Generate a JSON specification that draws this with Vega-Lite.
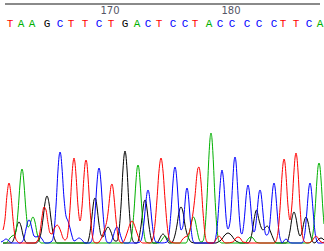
{
"$schema": "https://vega.github.io/schema/vega-lite/v6.json",
"width": 324, "height": 251, "padding": 0, "autosize": {"type": "none"},
"background": "white",
"config": {"view": {"stroke": null}},
"datasets": {
"trace": [
{"c":"G","x":[3,11,13,15,17,19,21,23,25,27,36,39,41,43,45,47,49,51,53,55,57,80,87,89,91,93,94,95,96,97,99,101,103,105,108,111,113,115,117,119,121,123,124,125,126,127,129,131,133,135,137,139,141,143,144,145,146,147,149,151,153,157,159,161,163,165,167,169,171,173,175,177,179,181,183,185,187,189,191,195,210,216,218,220,222,224,226,228,230,232,234,236,238,240,248,250,252,254,256.5,259,261,263,265,267,269,271,273,275,277,284,286,288,290,292,294,296,298,300,302,304,306,308,310,312,314,316,319,321,323,324],
 "h":[1,1,3,9,18,22,18,9,3,1,1,4,11,25,41,48,41,25,11,4,1,1,1,6,19,37,44,46,44,37,20,9,7,12,17,12,6,3,3,13,38,75,88,93,88,75,38,13,3,1,1,6,18,35,42,44,42,35,18,6,1,1,4,8,10,8,4,1,1,3,9,19,32,37,32,19,10,5,2,1,1,1,2,3,5,8,10,11,10,8,5,3,2,1,1,3,11,24,34,24,17,14,16,18,16,11,6,2,1,1,1,4,13,26,32,26,14,8,12,22,27,22,11,4,1,2,5,6,5,4]},
{"c":"A","x":[3,6,8,10,12,14,16,18,20,21,22,23,24,26,28,30,31,33,35,37,39,41,50,100,128,130,132,134,136,137,138,139,140,142,144,146,150,159,161,163,165,167,169,172,184,186,188,190,192,193.5,195,197,199,201,203,205,207,209,210,211,212,213,215,217,219,222,245,246,249,251,253,256,260,300,309,311,313,315,317,318,319,320,321,323,324],
 "h":[1,1,3,6,8,9,13,32,60,71,75,71,60,33,17,19,23,27,22,11,4,1,1,1,1,2,11,33,63,75,79,75,63,33,11,2,1,1,3,6,8,6,3,1,1,1,5,14,24,27,24,14,5,2,3,15,46,89,105,111,105,89,46,15,3,1,1,2,6,7,6,2,1,1,1,2,11,33,65,77,81,77,65,33,20]},
{"c":"C","x":[1,3,6,9,12,20,22,24,26,28,29,30,32,34,36,39,42,45,48,52,54,56,58,59,60,61,62,64,66,68,70,72,74,76,79,82,85,89,91,93,95,97,98,99,100,101,103,105,107,110,113,115,117,119,121,124,136,140,142,144,146,147,148,149,150,152,154,156,162,167,169,171,173,174,175,176,177,179,181,183,184,185,186,187,188,189,190,191,193,195,205,208,212,214,216,217,218,219,220,221,222,223,224,225,226,227,228,229,230,231,232,233,234,235,236,237,238,239,240,241,242,243,244,245,246,247,248,249,250,251,252,253,254,255,256,257,258,259,260,261,262,263,264,265,266,267,268,269,270,271,272,273,274,275,276,277,278,279,280,281,282,283,286,289,292,300,302,304,305,306,307,308,309,310,311,312,313,314,315,316,318,322,324],
 "h":[2,3,5,3,1,1,2,6,15,23,24,23,15,8,7,8,5,1,1,3,12,38,74,87,92,88,76,46,28,23,16,8,3,4,6,4,1,1,2,10,31,61,72,76,72,61,31,10,2,1,7,14,17,14,7,1,1,2,7,22,43,51,54,51,43,22,7,2,1,2,10,32,62,73,77,73,62,32,14,18,28,41,52,56,52,41,27,16,3,1,1,1,1,1,8,15,27,42,57,69,74,69,58,42,27,18,15,17,22,32,49,67,82,87,82,67,49,32,19,11,10,14,22,33,46,55,59,55,46,34,22,14,12,14,21,31,42,51,54,51,42,31,20,12,9,9,10,13,22,34,47,57,61,57,47,34,22,12,6,3,1,2,5,2,1,1,1,6,12,22,34,47,57,61,57,47,34,22,12,6,1,1,2]},
{"c":"T","x":[3,5,7,9,11,13,15,17,20,34,38,40,42,44,46,48,50,52,54,56,57,59,61,63,65,67,68,70,72,73,74,75,76,78,80,82,84,85,86,87,88,90,92,94,97,101,103,105,107,108,110,111,112,113,114,116,118,120,122,124,126,128,130,132,134,136,138,140,143,150,153,155,157,159,161,163,165,167,169,171,175,180,182,185,187,189,191,193,195,197,198,199,200,201,203,205,207,210,213,215,217,219,221,223,226,233,236,238,240,243,250,265,274,276,278,280,282,283,284,285,286,288,290,292,294,295,296,297,298,300,302,304,307,312,314,316,318,320,324],
 "h":[14,25,49,61,49,25,8,3,1,1,4,12,27,37,34,21,11,10,15,18,19,17,12,6,4,6,12,35,69,81,86,81,69,38,23,37,68,80,84,80,67,35,11,2,1,5,10,16,24,31,50,58,60,56,47,24,8,2,1,3,8,14,20,23,20,14,8,3,1,1,6,20,45,73,86,73,45,20,6,2,1,1,4,7,8,11,19,31,48,70,76,77,72,62,32,10,2,1,1,3,6,8,6,3,1,2,6,7,6,2,1,1,1,3,12,35,68,80,85,81,69,38,24,40,73,86,91,86,73,37,12,3,1,3,6,8,6,3,1]}
],
"bases": [
{"pos":162,"base":"T","x":10},{"pos":163,"base":"A","x":21},{"pos":164,"base":"A","x":32},{"pos":165,"base":"G","x":47},{"pos":166,"base":"C","x":60},{"pos":167,"base":"T","x":71},{"pos":168,"base":"T","x":85},{"pos":169,"base":"C","x":99},{"pos":170,"base":"T","x":111},{"pos":171,"base":"G","x":125},{"pos":172,"base":"A","x":137},{"pos":173,"base":"C","x":148},{"pos":174,"base":"T","x":159},{"pos":175,"base":"C","x":173},{"pos":176,"base":"C","x":185},{"pos":177,"base":"T","x":195},{"pos":178,"base":"A","x":209},{"pos":179,"base":"C","x":220},{"pos":180,"base":"C","x":232},{"pos":181,"base":"C","x":247},{"pos":182,"base":"C","x":259},{"pos":183,"base":"C","x":274},{"pos":184,"base":"T","x":283},{"pos":185,"base":"T","x":296},{"pos":186,"base":"C","x":309},{"pos":187,"base":"A","x":320}],
"ticks": [{"pos":"170","x":110},{"pos":"180","x":231}],
"ruler": [{"from":5,"to":320}]
},
"layer": [
{"data": {"name": "trace"}, "transform": [{"flatten": ["x", "h"]}],
 "mark": {"type": "line", "interpolate": "monotone", "strokeWidth": 1},
 "encoding": {
  "x": {"field": "x", "type": "quantitative", "scale": {"domain": [0, 324], "nice": false, "zero": false}, "axis": null},
  "y": {"field": "h", "type": "quantitative", "scale": {"domain": [-7, 244], "nice": false, "zero": false}, "axis": null},
  "color": {"field": "c", "type": "nominal", "scale": {"domain": ["A","C","G","T"], "range": ["#00b000","#0000ff","#000000","#ff0000"]}, "legend": null},
  "order": {"field": "x", "type": "quantitative"}}},
{"data": {"name": "bases"},
 "mark": {"type": "text", "font": "Liberation Mono", "fontSize": 11, "baseline": "alphabetic", "align": "center"},
 "encoding": {"x": {"field": "x", "type": "quantitative"}, "y": {"datum": 217}, "text": {"field": "base"}, "color": {"field": "base", "type": "nominal"}}},
{"data": {"name": "ticks"},
 "mark": {"type": "text", "font": "DejaVu Sans", "fontSize": 10, "color": "#555566", "baseline": "alphabetic", "align": "center"},
 "encoding": {"x": {"field": "x", "type": "quantitative"}, "y": {"datum": 230}, "text": {"field": "pos"}}},
{"data": {"name": "ruler"},
 "mark": {"type": "rule", "color": "#8a8a8a", "strokeWidth": 2},
 "encoding": {"x": {"field": "from", "type": "quantitative"}, "x2": {"field": "to"}, "y": {"datum": 240}}}
]
}
